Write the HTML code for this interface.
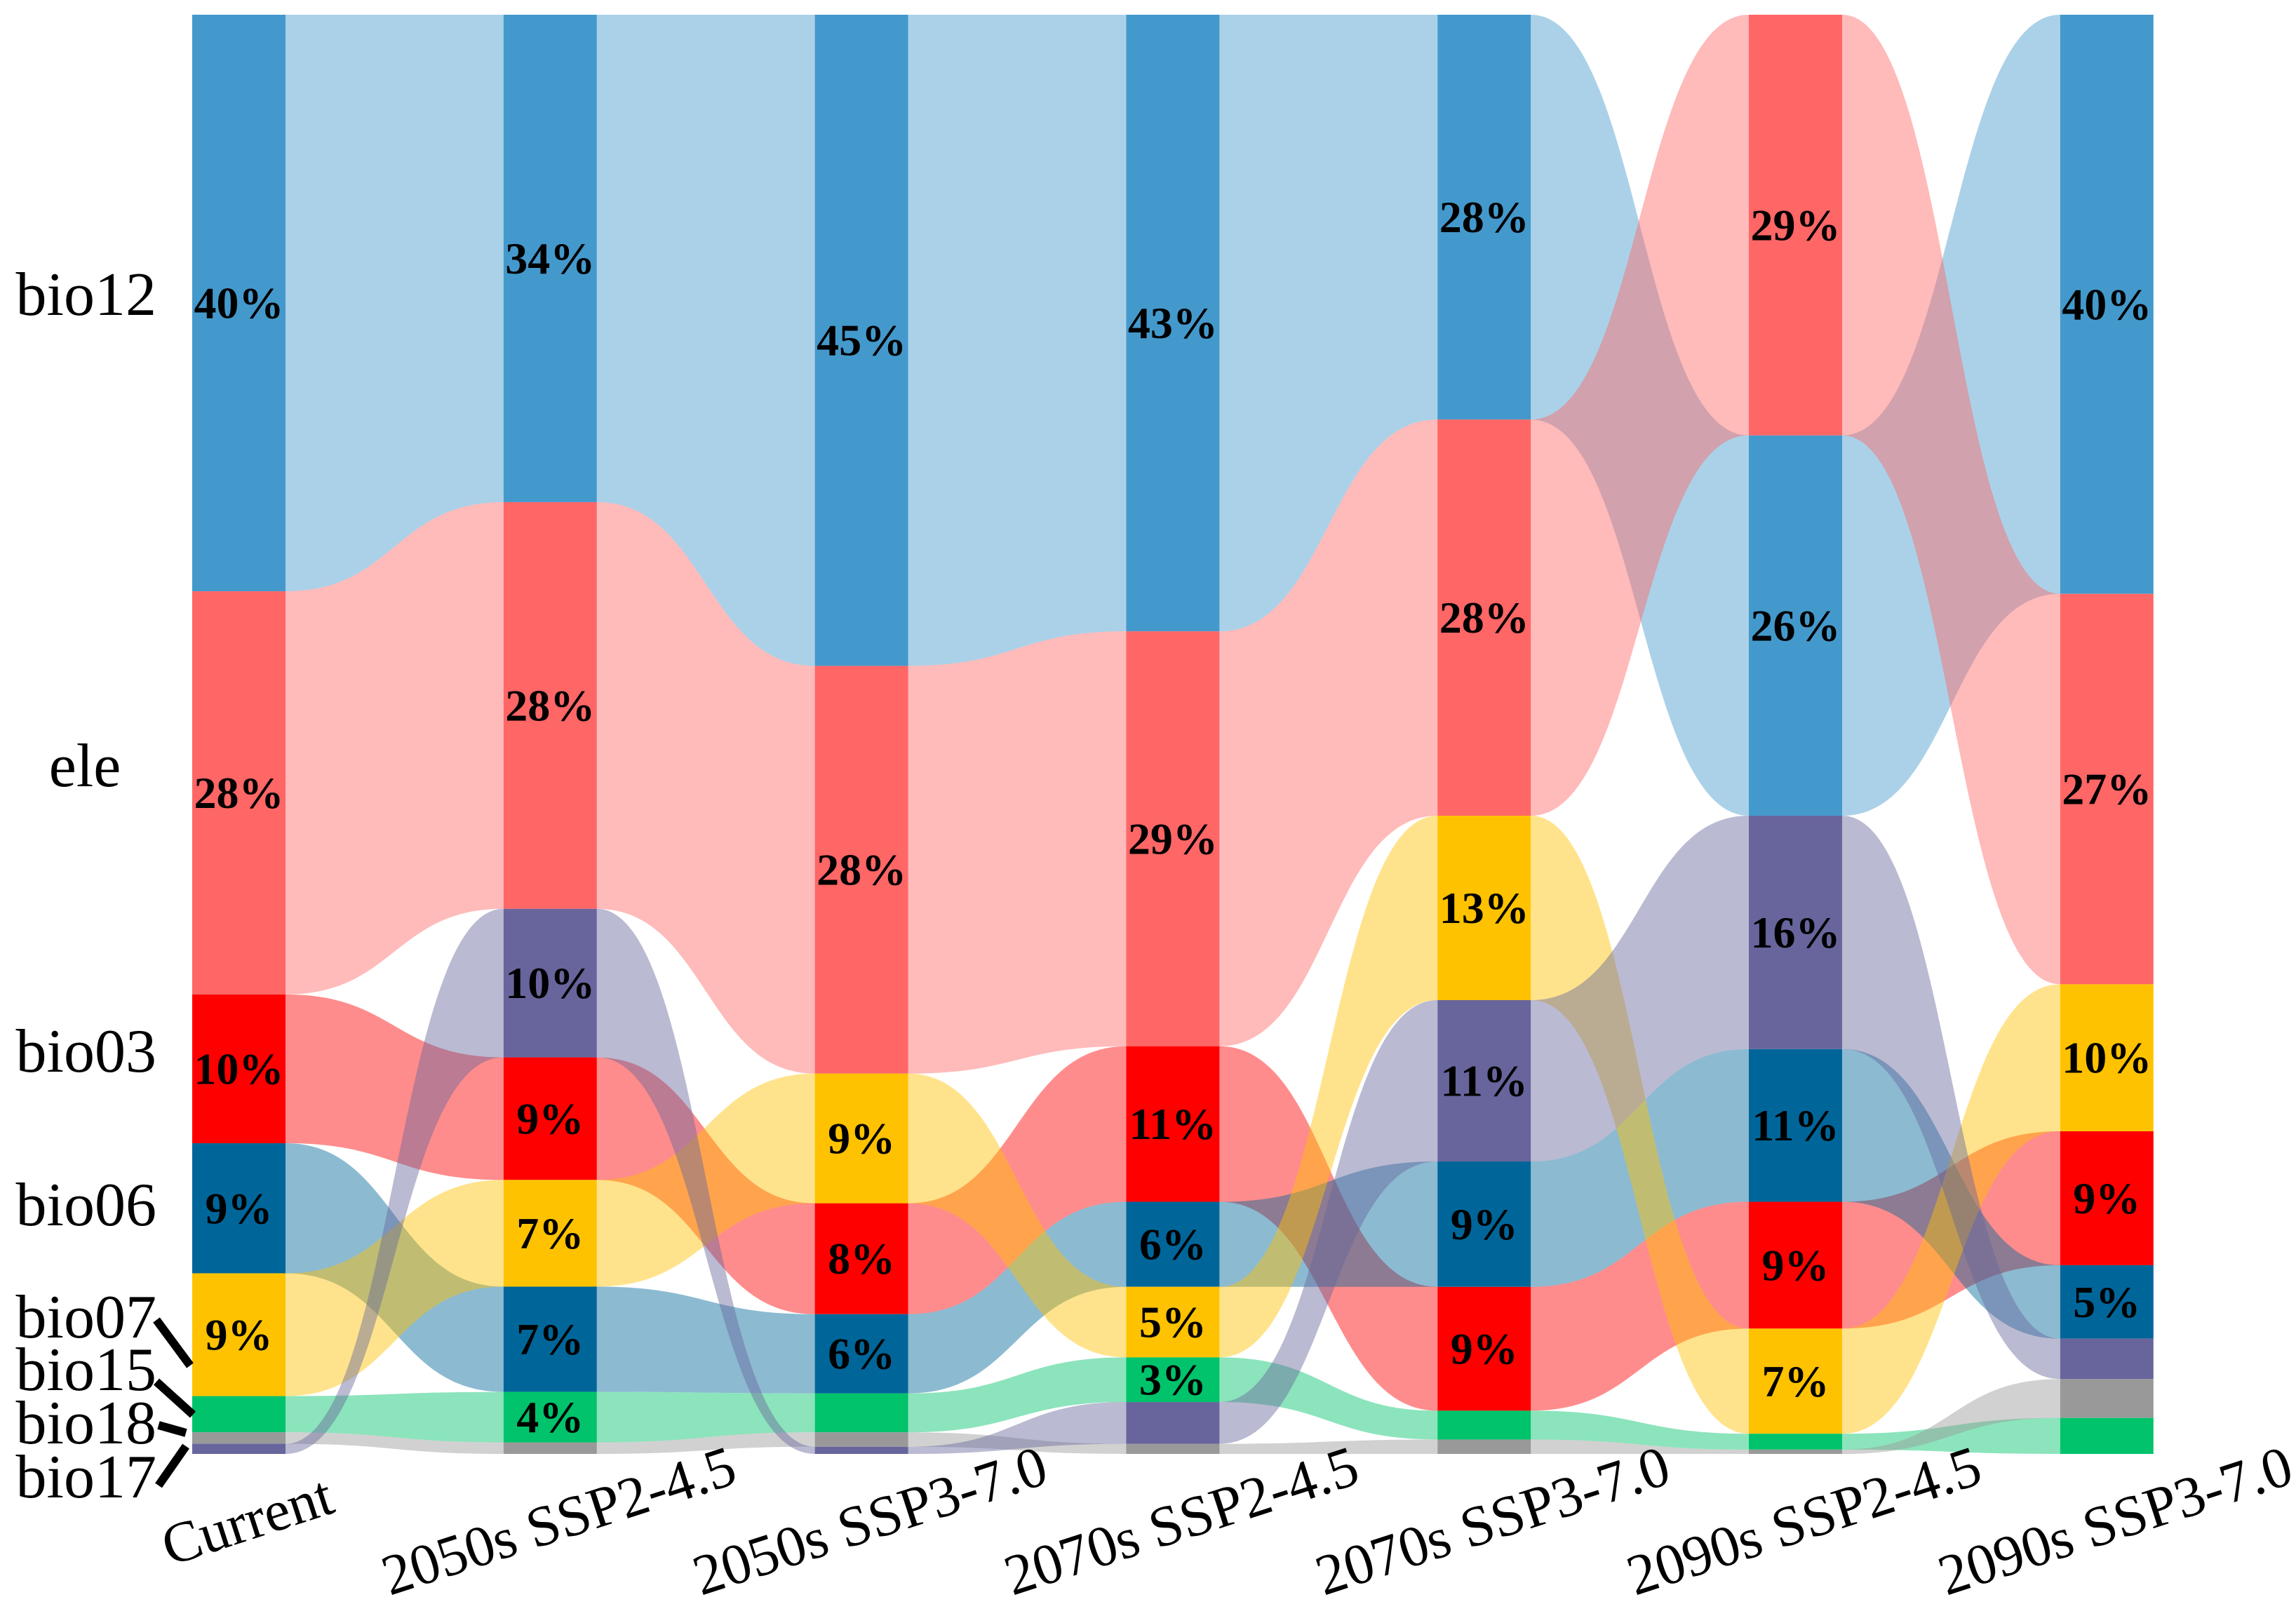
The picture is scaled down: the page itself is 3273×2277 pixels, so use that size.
<!DOCTYPE html>
<html><head><meta charset="utf-8"><style>
html,body{margin:0;padding:0;background:#fff;}
svg{display:block;}
text{font-family:"Liberation Serif","Times New Roman",serif;}
</style></head><body>
<svg id="chart" width="3273" height="2277" viewBox="0 0 3273 2277" xmlns="http://www.w3.org/2000/svg">
<g id="links"></g>
<g id="nodes"></g>
<g id="rowlabels"></g>
<g id="collabels"></g>
</svg>
<script>
const columns = ["Current","2050s SSP2-4.5","2050s SSP3-7.0","2070s SSP2-4.5","2070s SSP3-7.0","2090s SSP2-4.5","2090s SSP3-7.0"];
const variables = ["bio12","ele","bio03","bio06","bio07","bio15","bio18","bio17"];
const colors = ["#4499CC","#FF6666","#FF0000","#00669A","#FFC200","#00C36B","#999999","#67659C"];
// percentage contribution per variable (same order as variables), one array per column
const vCurrent = [39.9,27.9,10.3,9.0,8.5,2.5,0.8,0.7];
const v2050s245 = [33.8,28.2,8.5,7.3,7.4,3.5,0.8,10.3];
const v2050s370 = [45.2,28.3,7.7,5.5,9.0,2.7,1.0,0.5];
const v2070s245 = [42.8,28.8,10.8,5.9,4.9,3.1,0.7,2.9];
const v2070s370 = [28.1,27.5,8.6,8.7,12.8,2.0,1.0,11.2];
const v2090s245 = [26.4,29.2,8.8,10.6,7.3,1.1,0.3,16.2];
const v2090s370 = [40.2,27.1,9.3,5.1,10.2,2.5,2.7,2.8];
const values = [vCurrent,v2050s245,v2050s370,v2070s245,v2070s370,v2090s245,v2090s370];

const NS = "http://www.w3.org/2000/svg";
const TOP = 21, BOT = 2073, X0 = 274, STEP = 443.8, W = 133;
function colX(i){ return X0 + i*STEP; }

const layout = values.map(vals => {
  const sum = vals.reduce((a,b)=>a+b,0);
  const idx = vals.map((v,k)=>k).sort((a,b)=>vals[b]-vals[a]);
  const pos = {};
  let y = TOP;
  idx.forEach(k => {
    const h = vals[k]/sum*(BOT-TOP);
    pos[k] = {y0:y, y1:y+h};
    y += h;
  });
  return pos;
});

const links = document.getElementById('links');
for (let i=0;i<columns.length-1;i++){
  for (let k=0;k<variables.length;k++){
    const a = layout[i][k], b = layout[i+1][k];
    const xa = colX(i)+W, xb = colX(i+1), xm = (xa+xb)/2;
    const d = `M${xa},${a.y0} C${xm},${a.y0} ${xm},${b.y0} ${xb},${b.y0} L${xb},${b.y1} C${xm},${b.y1} ${xm},${a.y1} ${xa},${a.y1} Z`;
    const p = document.createElementNS(NS,'path');
    p.setAttribute('d', d);
    p.setAttribute('fill', colors[k]);
    p.setAttribute('fill-opacity', '0.45');
    
    
    links.appendChild(p);
  }
}

const nodes = document.getElementById('nodes');
for (let i=0;i<columns.length;i++){
  for (let k=0;k<variables.length;k++){
    const s = layout[i][k];
    const r = document.createElementNS(NS,'rect');
    r.setAttribute('x', colX(i)); r.setAttribute('y', s.y0);
    r.setAttribute('width', W); r.setAttribute('height', Math.max(0, s.y1-s.y0));
    r.setAttribute('fill', colors[k]);
    
    
    nodes.appendChild(r);
    const v = values[i][k];
    if (v >= 3){
      const t = document.createElementNS(NS,'text');
      t.setAttribute('x', colX(i)+W/2);
      t.setAttribute('y', (s.y0+s.y1)/2);
      t.setAttribute('text-anchor','middle');
      t.setAttribute('dominant-baseline','central');
      t.setAttribute('font-size','64');
      t.setAttribute('font-weight','bold');
      t.setAttribute('fill','#000');
      t.textContent = Math.round(v) + '%';
      
      
      nodes.appendChild(t);
    }
  }
}

const rowLabelY = {bio12:449, ele:1121, bio03:1528, bio06:1747, bio07:1907, bio15:1982, bio18:2058, bio17:2135};
const rl = document.getElementById('rowlabels');
variables.forEach(v => {
  const t = document.createElementNS(NS,'text');
  t.setAttribute('y', rowLabelY[v]);
  if (v === 'ele'){ t.setAttribute('x', 121); t.setAttribute('text-anchor','middle'); }
  else { t.setAttribute('x', 223); t.setAttribute('text-anchor','end'); }
  t.setAttribute('font-size','88');
  t.setAttribute('fill','#000');
  t.textContent = v;
  
  
  rl.appendChild(t);
});
const leaders = [[223,1882,271,1947],[223,1970,275,2017],[226,2032,265,2043],[265,2062,226,2118]];
leaders.forEach((l,j) => {
  const ln = document.createElementNS(NS,'line');
  ln.setAttribute('x1',l[0]); ln.setAttribute('y1',l[1]);
  ln.setAttribute('x2',l[2]); ln.setAttribute('y2',l[3]);
  ln.setAttribute('stroke','#000'); ln.setAttribute('stroke-width','12');
  
  
  rl.appendChild(ln);
});

const cl = document.getElementById('collabels');
columns.forEach((c,i) => {
  const cx = colX(i)+W/2+12, cy = 2168;
  const t = document.createElementNS(NS,'text');
  t.setAttribute('x', cx); t.setAttribute('y', cy);
  t.setAttribute('text-anchor','middle');
  t.setAttribute('dominant-baseline','central');
  t.setAttribute('font-size','82');
  t.setAttribute('fill','#000');
  t.setAttribute('transform', `rotate(-18 ${cx} ${cy})`);
  t.textContent = c;
  
  
  cl.appendChild(t);
});
</script>
</body></html>
